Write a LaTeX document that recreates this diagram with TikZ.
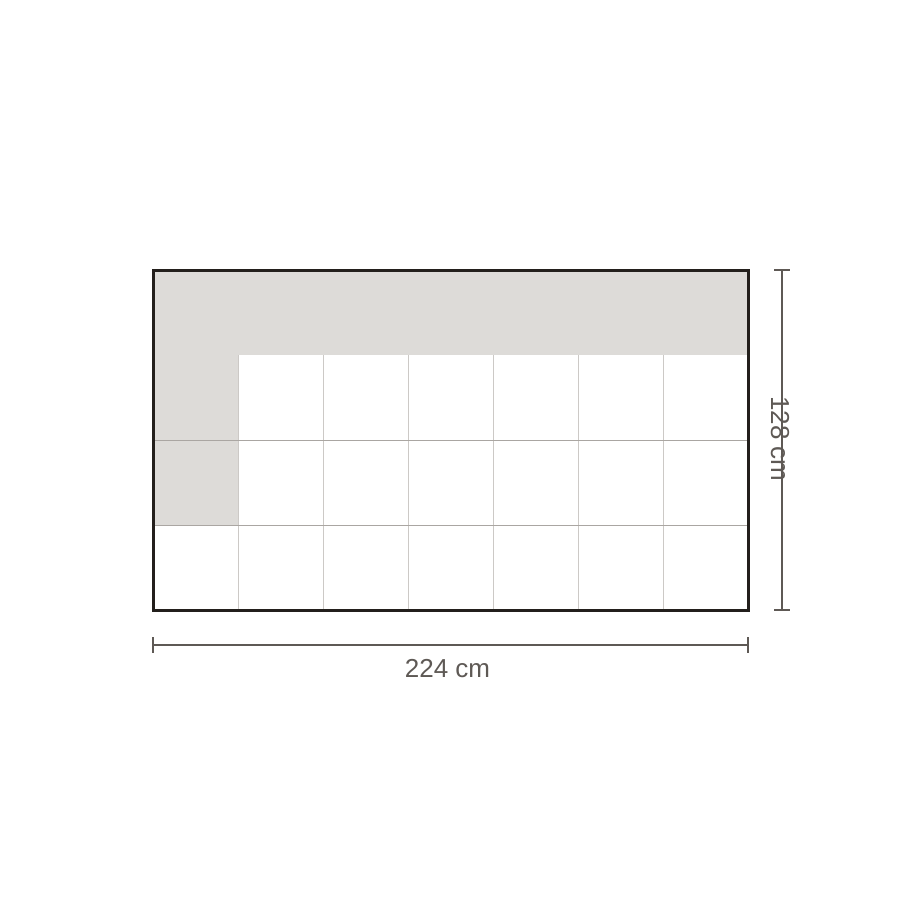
\documentclass[tikz,border=0pt]{standalone}
\usepackage{fontspec}
\setmainfont{Liberation Sans}
\usepackage{xcolor}
\definecolor{framecol}{HTML}{231F1C}
\definecolor{shadecol}{HTML}{DDDBD8}
\definecolor{rowline}{HTML}{AAA6A2}
\definecolor{colline}{HTML}{CCC9C6}
\definecolor{dimcol}{HTML}{5E5955}

\tikzset{
  dimline/.style={dimcol,line width=1.6pt},
  dimtext/.style={text=dimcol,font=\fontsize{26}{30}\selectfont,inner sep=0pt}
}

\begin{document}
\begin{tikzpicture}[x=1pt,y=-1pt]
  \useasboundingbox (0,0) rectangle (900,900);
  \path (153,270) coordinate (nw) (748,610) coordinate (se);
  % shaded cells
  \fill[shadecol] (nw) rectangle ++(595,85);
  \fill[shadecol] (nw) ++(0,85) rectangle ++(85,170);
  % grid
  \foreach \i in {1,...,6}
    \draw[colline,line width=1pt] (nw) ++(\i*85,85) -- ++(0,255);
  \foreach \j in {2,3}
    \draw[rowline,line width=1pt] (nw) ++(0,\j*85) -- ++(595,0);
  \draw[framecol,line width=3pt] (nw) rectangle (se);
  % width
  \path (se) ++(0,35) coordinate (wr) (nw |- wr) coordinate (wl);
  \draw[dimline] (wl) -- (wr);
  \draw[dimline] (wl) ++(0,-8) -- ++(0,16);
  \draw[dimline] (wr) ++(0,-8) -- ++(0,16);
  \path ([shift={(-3,24)}]wl) -- ([shift={(-3,24)}]wr)
    node[dimtext,midway] (wlabel) {224 cm};
  % height
  \path (se) ++(34,0) coordinate (hb) (hb |- nw) coordinate (ht);
  \draw[dimline] (ht) -- (hb);
  \draw[dimline] (ht) ++(-8,0) -- ++(16,0);
  \draw[dimline] (hb) ++(-8,0) -- ++(16,0);
  \path ([shift={(-2,-1)}]ht) -- ([shift={(-2,-1)}]hb)
    node[dimtext,midway,rotate=-90] (hlabel) {128 cm};
\end{tikzpicture}
\end{document}
